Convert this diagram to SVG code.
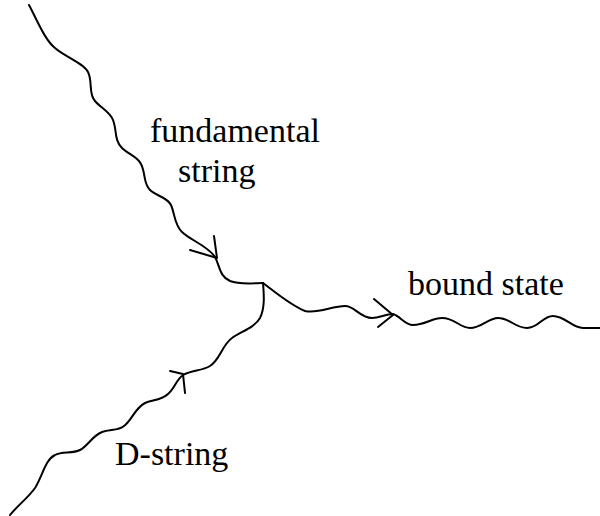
<svg xmlns="http://www.w3.org/2000/svg" width="600" height="516" viewBox="0 0 600 516">
<style>
.s{fill:none;stroke:#000;stroke-width:2;stroke-linecap:round;stroke-linejoin:round}
.t{font-family:"Liberation Serif","Times New Roman",serif;font-size:34px;fill:#000}
</style>
<rect width="600" height="516" fill="#fff"/>
<g id="connectors">
<path id="fundamental-string" class="s" d="M29,5 C38,22 45,40 55,48 C65,57 84,63 88,72 C93,82 88,93 95,101 C101,108 110,112 113,120 C117,130 114,140 122,148 C128,154 138,157 141,164 C146,174 143,183 150,190 C156,196 167,197 171,205 C175,214 174,224 182,232 C190,240 208,246 215,257 C220,266 219,276 230,281 C240,285 255,283 263,283"/>
<path class="s" d="M190,250 L217,258 L214,236"/>
<path id="bound-state" class="s" d="M263,283 C275,292 290,305 305,311 C318,314 332,306 345,306 C355,306 360,318 372,318 C380,318 385,314 393,314 C400,316 405,325 413,325 C425,325 432,318 442,318 C455,318 460,328 470,328 C482,328 488,318 498,318 C510,318 515,328 527,328 C539,328 542,316 553,316 C565,316 572,328 583,328 L600,328"/>
<path class="s" d="M374,299 L393,315 L378,327"/>
<path id="d-string" class="s" d="M10,515 C18,505 28,498 35,488 C43,475 45,460 55,455 C62,451 72,454 80,450 C88,446 92,436 102,432 C110,429 118,431 124,426 C132,420 135,408 145,403 C152,400 162,400 168,394 C175,388 176,380 183,375 C192,370 202,371 210,366 C220,360 222,345 232,338 C242,331 254,328 260,318 C265,308 264,295 263,283"/>
<path class="s" d="M170,371 L183,374 L185,393"/>
</g>
<g id="label-fundamental"><text class="t" x="150" y="142">fundamental</text><text class="t" x="178" y="182">string</text></g>
<g id="label-bound"><text class="t" x="408" y="295">bound state</text></g>
<g id="label-d"><text class="t" x="115" y="465">D-string</text></g>
</svg>
